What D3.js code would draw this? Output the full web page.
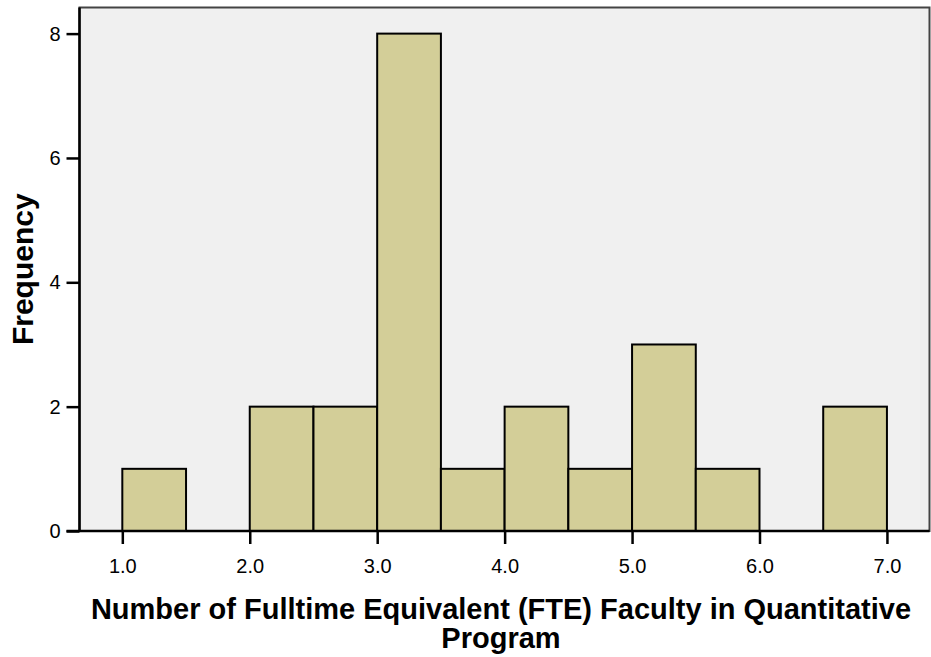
<!DOCTYPE html>
<html lang="en">
<head>
<meta charset="UTF-8">
<title>FTE Faculty histogram</title>
<script src="https://cdnjs.cloudflare.com/ajax/libs/d3/7.9.0/d3.min.js"></script>
<style>
  body{margin:0;background:#fff;font-family:"Liberation Sans",Arial,sans-serif;}
  svg{display:block}
</style>
</head>
<body>
<div id="chart"></div>
<script>
/* ---------- data ---------- */
const binStarts = [1.0,1.5,2.0,2.5,3.0,3.5,4.0,4.5,5.0,5.5,6.0,6.5];
const counts    = [1,  0,  2,  2,  8,  1,  2,  1,  3,  1,  0,  2];
const binWidth  = 0.5;
const xTicks    = [1,2,3,4,5,6,7];
const yTicks    = [0,2,4,6,8];

const W = 931, H = 657;
const m = {left:79.5, right:1.5, top:7.5, bottom:126};

const svg = d3.select("#chart").append("svg").attr("width",W).attr("height",H);

const x = d3.scaleLinear().domain([0.664,7.334]).range([m.left, W-m.right]);
const y = d3.scaleLinear().domain([0,8.42]).range([H-m.bottom, m.top]);

// plot background + frame
svg.append("rect")
  .attr("x",m.left).attr("y",m.top)
  .attr("width",W-m.left-m.right).attr("height",H-m.top-m.bottom)
  .attr("fill","#f0f0f0").attr("stroke","#444").attr("stroke-width",2);

// bars
svg.selectAll("rect.bar")
  .data(binStarts.map((s,i)=>({s,c:counts[i]})).filter(d=>d.c>0))
  .enter().append("rect").attr("class","bar")
    .attr("x",d=>x(d.s))
    .attr("y",d=>y(d.c))
    .attr("width",d=>x(d.s+binWidth)-x(d.s))
    .attr("height",d=>y(0)-y(d.c))
    .attr("fill","#d3ce98").attr("stroke","#000").attr("stroke-width",2);

// axes
const xAxis = svg.append("g").attr("transform",`translate(0,${y(0)})`)
  .call(d3.axisBottom(x).tickValues(xTicks).tickFormat(d3.format(".1f")).tickSize(13).tickPadding(15));
const yAxis = svg.append("g").attr("transform",`translate(${m.left},0)`)
  .call(d3.axisLeft(y).tickValues(yTicks).tickSize(13).tickPadding(6));

[xAxis,yAxis].forEach(g=>{
  g.select(".domain").attr("stroke","#000").attr("stroke-width",2.5);
  g.selectAll(".tick line").attr("stroke","#000").attr("stroke-width",2.5);
  g.selectAll(".tick text").attr("fill","#000")
    .style("font-family","'Liberation Sans',Arial,sans-serif").style("font-size","20px");
});
// y domain line: only vertical (no outer ticks)
yAxis.select(".domain").attr("d",`M0,${y(0)}V${m.top}`);
xAxis.select(".domain").attr("d",`M${m.left-13},0H${W-m.right}`);

// titles
svg.append("text")
  .attr("transform",`translate(33,${(m.top+y(0))/2}) rotate(-90)`)
  .attr("text-anchor","middle")
  .style("font-size","30px").style("font-weight","bold")
  .text("Frequency");

const xt = svg.append("text").attr("text-anchor","middle")
  .style("font-size","29px").style("font-weight","bold");
xt.append("tspan").attr("x",501).attr("y",619).text("Number of Fulltime Equivalent (FTE) Faculty in Quantitative");
xt.append("tspan").attr("x",501).attr("y",648).text("Program");
</script>
</body>
</html>
